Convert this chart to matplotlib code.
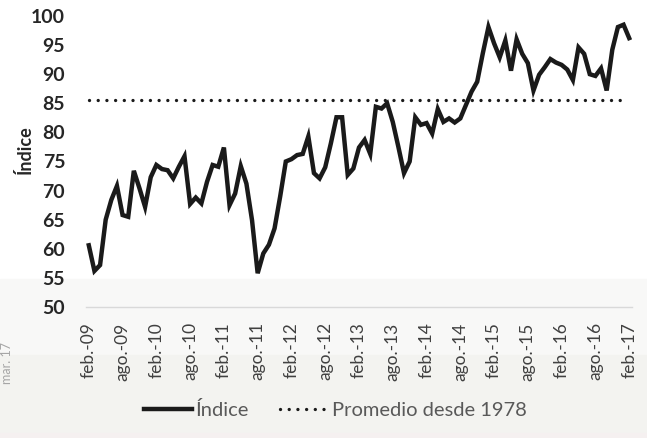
import matplotlib.pyplot as plt
from matplotlib.patches import Rectangle

# monthly index, feb-09 .. feb-17
indice = [60.6, 56.2, 57.2, 65.0, 68.4, 70.8, 65.8, 65.5, 73.4, 70.4,
          67.2, 72.3, 74.4, 73.7, 73.5, 72.1, 74.1, 75.9, 67.7, 68.8,
          67.8, 71.5, 74.4, 74.1, 77.4, 67.5, 69.5, 74.2, 71.2, 64.9,
          55.8, 59.2, 60.7, 63.5, 69.0, 75.0, 75.4, 76.1, 76.3, 79.3,
          73.0, 72.1, 74.0, 78.1, 82.6, 82.6, 72.7, 73.8, 77.4, 78.7,
          76.3, 84.4, 84.1, 85.0, 81.8, 77.5, 73.0, 75.0, 82.6, 81.3,
          81.6, 79.8, 84.0, 81.8, 82.4, 81.7, 82.4, 84.7, 87.0, 88.7,
          93.6, 98.1, 95.3, 92.9, 95.8, 90.6, 96.0, 93.5, 91.9, 87.2,
          89.9, 91.2, 92.6, 92.0, 91.6, 90.8, 89.0, 94.6, 93.5, 90.0,
          89.7, 91.0, 87.2, 94.2, 98.1, 98.5, 96.2]
promedio = 85.5
tick_labels = ["feb.-09", "ago.-09", "feb.-10", "ago.-10", "feb.-11", "ago.-11",
               "feb.-12", "ago.-12", "feb.-13", "ago.-13", "feb.-14", "ago.-14",
               "feb.-15", "ago.-15", "feb.-16", "ago.-16", "feb.-17"]
yticks = [50, 55, 60, 65, 70, 75, 80, 85, 90, 95, 100]

plt.rcParams["font.family"] = ["Lato", "DejaVu Sans"]

fig = plt.figure(figsize=(6.47, 4.38), dpi=100)
# light page background bands at the bottom
fig.patches.append(Rectangle((0, 0.189), 1, 0.175, transform=fig.transFigure,
                             color="#f8f8f7", zorder=-10))
fig.patches.append(Rectangle((0, 0), 1, 0.189, transform=fig.transFigure,
                             color="#f3f3f0", zorder=-10))
fig.patches.append(Rectangle((0, 0), 1, 0.012, transform=fig.transFigure,
                             color="#f5f0f0", zorder=-9))

ax = fig.add_axes([0.1329, 0.2991, 0.8439, 0.6644])
ax.patch.set_alpha(0)

x = list(range(len(indice)))
ax.plot(x, indice, color="#1a1a1a", lw=3.2, solid_joinstyle="miter", label="Índice")
ax.plot(x[:-1], [promedio] * (len(x) - 1), color="#1a1a1a", lw=2.4,
        linestyle=(0, (0.01, 2.6)), dash_capstyle="round",
        label="Promedio desde 1978")

ax.set_xlim(-0.5, len(x) - 0.5)
ax.set_ylim(50, 100)
ax.set_yticks(yticks)
ax.set_yticklabels([str(v) for v in yticks], fontweight="bold", color="#262626", fontsize=14)
ax.set_xticks(range(0, len(x), 6))
ax.set_xticklabels(tick_labels, rotation=90, color="#404040", fontsize=12.5)
ax.tick_params(axis="y", length=0, pad=15)
ax.tick_params(axis="x", length=0, pad=11)

for side in ["top", "right", "left"]:
    ax.spines[side].set_visible(False)
ax.spines["bottom"].set_color("#d9d9d9")
ax.spines["bottom"].set_linewidth(1)

fig.text(25 / 647, 1 - 150 / 438, "Índice", rotation=90, ha="center", va="center",
         fontweight="bold", fontsize=13, color="#262626")
fig.text(7 / 647, 1 - 363 / 438, "mar. 17", rotation=90, ha="center", va="center",
         fontsize=9, color="#a6a6a6")

fig.legend(loc="center", bbox_to_anchor=(0.518, 0.064), ncol=2, frameon=False,
           fontsize=14.5, handlelength=2.4, handletextpad=0.2, columnspacing=1.5,
           labelcolor="#595959")

fig.savefig("out.png", dpi=100)
